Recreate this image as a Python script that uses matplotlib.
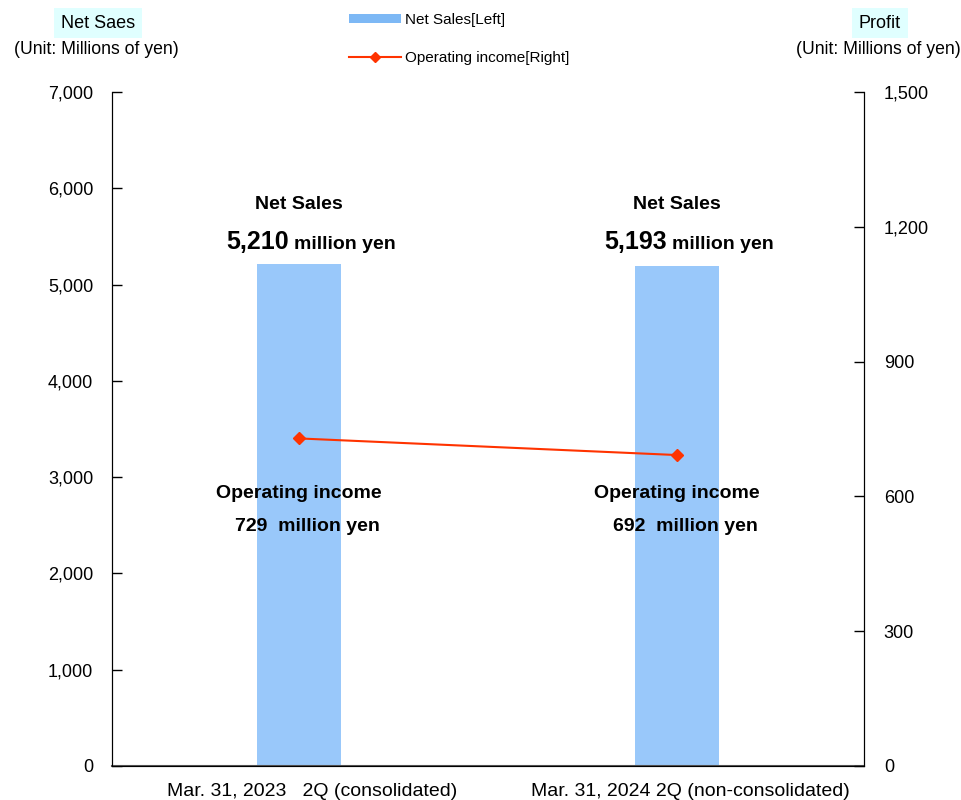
import matplotlib.pyplot as plt
from matplotlib.lines import Line2D
from matplotlib.patches import Patch

plt.rcParams["font.family"] = ["Liberation Sans", "DejaVu Sans"]

categories = ["Mar. 31, 2023   2Q (consolidated)", "Mar. 31, 2024 2Q (non-consolidated)"]
net_sales = [5210, 5193]
operating_income = [729, 692]
sales_labels = ["5,210", "5,193"]
income_labels = ["729", "692"]
left_ticks = [0, 1000, 2000, 3000, 4000, 5000, 6000, 7000]
right_ticks = [0, 300, 600, 900, 1200, 1500]

bar_color = "#99C8FA"
line_color = "#FF3300"

fig = plt.figure(figsize=(9.62, 8), dpi=100)
ax = fig.add_axes([0.1165, 0.0425, 0.782, 0.8425])
ax2 = ax.twinx()

x = list(range(len(categories)))
ax.bar(x, net_sales, width=0.222, color=bar_color, zorder=1)
ax.set_xlim(-0.495, 1.495)
ax.set_ylim(0, 7000)
ax.set_yticks(left_ticks)
ax.set_yticklabels([f"{v:,}" for v in left_ticks])
# category labels sit a little right of the bar centres in the original
ax.set_xticks([i + 0.035 for i in x])
ax.set_xticklabels(categories, fontsize=14)

ax2.plot(x, operating_income, color=line_color, marker="D", markersize=6, linewidth=1.5, zorder=3)
ax2.set_ylim(0, 1500)
ax2.set_yticks(right_ticks)
ax2.set_yticklabels([f"{v:,}" for v in right_ticks])

for a in (ax, ax2):
    a.spines["top"].set_visible(False)
    a.tick_params(axis="y", direction="in", length=7, width=1, labelsize=13)
    a.tick_params(axis="x", length=0, pad=12)
ax.tick_params(axis="y", pad=13.5)
ax2.tick_params(axis="y", pad=14)
ax.spines["bottom"].set_color("#555555")
ax.spines["bottom"].set_linewidth(1.5)
ax.set_zorder(ax2.get_zorder() - 1)
ax.patch.set_visible(False)

# annotations
for i in x:
    ax.text(i, 5830, "Net Sales", ha="center", va="center", fontsize=14, fontweight="bold")
    ax.annotate(sales_labels[i], xy=(i, 5440), ha="right", va="center",
                fontsize=18, fontweight="bold", xytext=(-7.5, 0),
                textcoords="offset points")
    ax.annotate("million yen", xy=(i, 5420), ha="left", va="center",
                fontsize=14, fontweight="bold", xytext=(-3.8, 0),
                textcoords="offset points")
    ax.text(i, 2830, "Operating income", ha="center", va="center", fontsize=14, fontweight="bold")
    ax.annotate(income_labels[i] + "  million yen", xy=(i, 2490), ha="center", va="center",
                fontsize=14, fontweight="bold", xytext=(6, 0), textcoords="offset points")

# axis headers
fig.text(98 / 962, 1 - 23 / 800, "Net Saes", ha="center", va="center", fontsize=13,
         bbox=dict(facecolor="#E0FFFF", edgecolor="none", pad=5))
fig.text(96 / 962, 1 - 49 / 800, "(Unit: Millions of yen)", ha="center", va="center", fontsize=12.7)
fig.text(880 / 962, 1 - 23 / 800, "Profit", ha="center", va="center", fontsize=13,
         bbox=dict(facecolor="#E0FFFF", edgecolor="none", pad=5))
fig.text(878 / 962, 1 - 49 / 800, "(Unit: Millions of yen)", ha="center", va="center", fontsize=12.7)

handles = [Patch(facecolor="#7DB8F5", edgecolor="none"),
           Line2D([0], [0], color=line_color, marker="D", markersize=5, linewidth=1.5)]
fig.legend(handles, ["Net Sales[Left]", "Operating income[Right]"], loc="upper left",
           bbox_to_anchor=(335 / 962, 1 + 1 / 800), frameon=False, fontsize=11,
           handlelength=3.4, handleheight=0.5, labelspacing=1.6, handletextpad=0.3)

fig.savefig("out.png", dpi=100)
